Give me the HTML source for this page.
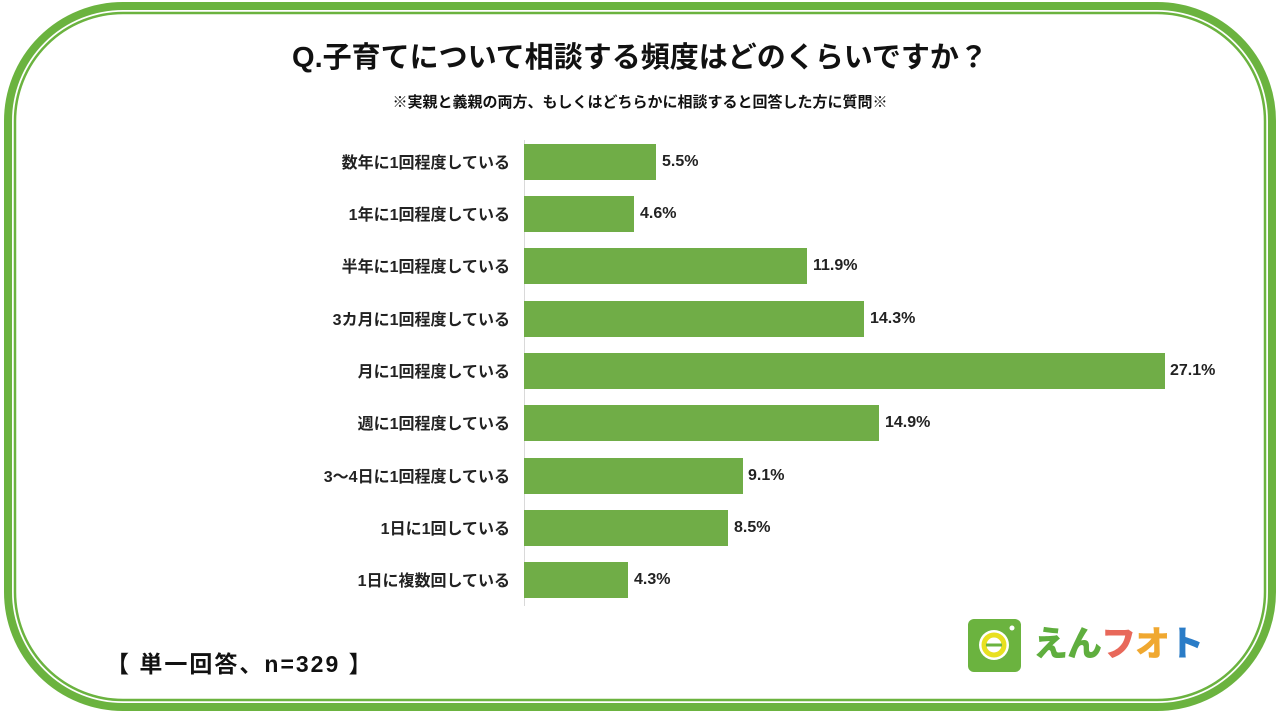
<!DOCTYPE html>
<html><head><meta charset="utf-8"><style>
body{margin:0;width:1280px;height:720px;background:#fff;position:relative;overflow:hidden;font-family:"Liberation Sans","Noto Sans CJK JP",sans-serif;}
.t{position:absolute;left:0;width:1280px;text-align:center;font-weight:bold;color:#111;}
.lab{position:absolute;right:770px;font-size:16px;font-weight:bold;color:#222;text-align:right;white-space:nowrap;}
.bar{position:absolute;left:524px;height:36px;background:#70ad47;}
.val{position:absolute;font-size:16px;font-weight:bold;color:#222;}
</style></head><body>
<svg width="1280" height="720" style="position:absolute;left:0;top:0">
<rect x="8" y="6" width="1264" height="701" rx="115" fill="none" stroke="#6bb33f" stroke-width="8"/>
<rect x="15" y="13" width="1250" height="687" rx="108" fill="none" stroke="#6bb33f" stroke-width="2.5"/>
<line x1="524.5" y1="140" x2="524.5" y2="606" stroke="#d9d9d9" stroke-width="1"/>
<rect x="968" y="619" width="53" height="53" rx="6" fill="#6bb33f"/>
<circle cx="994" cy="645" r="15" fill="#fff"/>
<circle cx="994" cy="645" r="10" fill="none" stroke="#e8e020" stroke-width="5"/>
<line x1="986" y1="645" x2="1002" y2="645" stroke="#6bb33f" stroke-width="3"/>
<circle cx="1012" cy="628" r="2.5" fill="#fff"/>
</svg>
<div class="t" style="top:34px;font-size:29px;">Q.子育てについて相談する頻度はどのくらいですか？</div>
<div class="t" style="top:91px;font-size:15px;">※実親と義親の両方、もしくはどちらかに相談すると回答した方に質問※</div>

<div class="lab" style="top:149px">数年に1回程度している</div><div class="bar" style="top:144px;width:132px"></div><div class="val" style="top:153px;left:662px">5.5%</div>
<div class="lab" style="top:201px">1年に1回程度している</div><div class="bar" style="top:196px;width:110px"></div><div class="val" style="top:205px;left:640px">4.6%</div>
<div class="lab" style="top:253px">半年に1回程度している</div><div class="bar" style="top:248px;width:283px"></div><div class="val" style="top:257px;left:813px">11.9%</div>
<div class="lab" style="top:306px">3カ月に1回程度している</div><div class="bar" style="top:301px;width:340px"></div><div class="val" style="top:310px;left:870px">14.3%</div>
<div class="lab" style="top:358px">月に1回程度している</div><div class="bar" style="top:353px;width:641px"></div><div class="val" style="top:362px;left:1170px">27.1%</div>
<div class="lab" style="top:410px">週に1回程度している</div><div class="bar" style="top:405px;width:355px"></div><div class="val" style="top:414px;left:885px">14.9%</div>
<div class="lab" style="top:463px">3～4日に1回程度している</div><div class="bar" style="top:458px;width:219px"></div><div class="val" style="top:467px;left:748px">9.1%</div>
<div class="lab" style="top:515px">1日に1回している</div><div class="bar" style="top:510px;width:204px"></div><div class="val" style="top:519px;left:734px">8.5%</div>
<div class="lab" style="top:567px">1日に複数回している</div><div class="bar" style="top:562px;width:104px"></div><div class="val" style="top:571px;left:634px">4.3%</div>

<div style="position:absolute;left:106px;top:645px;font-size:23px;font-weight:bold;color:#111;letter-spacing:2px;white-space:nowrap;">【 単一回答、n=329 】</div>
<div style="position:absolute;left:1033px;top:622px;font-size:35px;font-weight:900;line-height:46px;white-space:nowrap;letter-spacing:-1px;"><span style="color:#5fae3e">えん</span><span style="color:#e8685a">フ</span><span style="color:#f0a830">オ</span><span style="color:#2a7cc7">ト</span></div>
</body></html>
